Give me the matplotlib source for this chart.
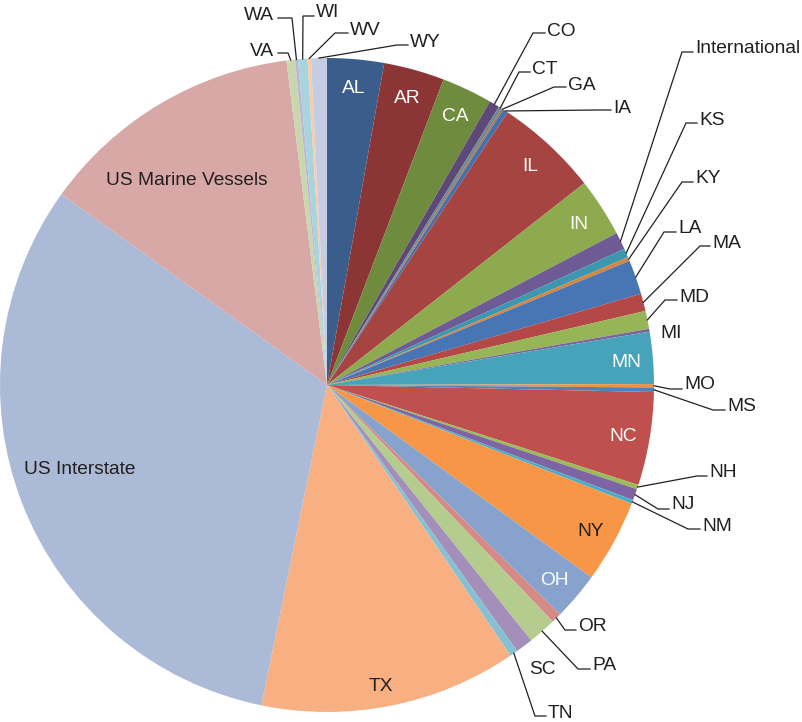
import numpy as np
import matplotlib
matplotlib.use("Agg")
import matplotlib.pyplot as plt

plt.rcParams['font.family'] = ['Liberation Sans', 'DejaVu Sans']

# Slice data (share of total, clockwise from 12 o'clock)
labels = ["AL", "AR", "CA", "CO", "CT", "GA", "IA", "IL", "IN", "International",
          "KS", "KY", "LA", "MA", "MD", "MI", "MN", "MO", "MS", "NC", "NH", "NJ",
          "NM", "NY", "OH", "OR", "PA", "SC", "TN", "TX", "US Interstate",
          "US Marine Vessels", "VA", "WA", "WI", "WV", "WY"]
shares = [2.8, 3.0, 2.5, 0.51, 0.17, 0.08, 0.25, 5.1, 2.9, 0.86,
          0.44, 0.19, 1.7, 0.86, 0.89, 0.14, 2.56, 0.17, 0.22, 4.6, 0.22, 0.56,
          0.19, 4.1, 2.36, 0.5, 1.39, 0.86, 0.39, 12.7, 31.7,
          13.1, 0.42, 0.14, 0.47, 0.17, 0.78]
colors = ["#3a5d8c", "#8b3634", "#6f8b3d", "#5d4878", "#6f8a94", "#b66d31",
          "#4471ae", "#a54441", "#8daa4e", "#6e5a94", "#3d97ae", "#d9843b",
          "#4876b4", "#b34846", "#95b556", "#7b61a0", "#46a3ba", "#f0913f",
          "#4f81bd", "#c0504d", "#9bbb59", "#7e64a3", "#4bacc6", "#f79646",
          "#87a2cd", "#d58a88", "#b5cc8f", "#a38fba", "#85c1d3", "#f8b083",
          "#aabad7", "#d8a8a7", "#c9d7ae", "#beb3d1", "#a8d4e0", "#f9cba8",
          "#c5cde3"]

W, H = 802, 722
cx, cy, R = 327, 385, 327      # pie centre / radius in pixels (y down)
dark = "#231f20"
fs = 13.8

# labels drawn inside the slices: radius in px, angle shift (deg, clockwise), colour
inside = {"AL": (300, 0, "white"), "AR": (300, 0, "white"), "CA": (300, 0, "white"),
          "IL": (300, 0, "white"), "IN": (300, 0, "white"), "MN": (300, 0, "white"),
          "NC": (300, 0, "white"), "NY": (300, 0, dark), "OH": (298, 0, "white"),
          "TX": (304, 1, dark), "US Interstate": (260, 3, dark),
          "US Marine Vessels": (250, -3.5, dark)}

# outside labels: text x, text centre y, alignment, leader elbow (None = no leader)
outside = {
    "CO": (547, 29, "left", (533, 33)),
    "CT": (532, 67, "left", (519, 72)),
    "GA": (568, 83, "left", (554, 87)),
    "IA": (613, 106, "left", (598, 110)),
    "International": (695, 46, "left", (682, 52)),
    "KS": (699, 118, "left", (686, 123)),
    "KY": (695, 176, "left", (682, 182)),
    "LA": (678, 226, "left", (664, 232)),
    "MA": (712, 241, "left", (700, 246)),
    "MD": (679, 295, "left", (665, 300)),
    "MI": (660, 331, "left", None),
    "MO": (684, 382, "left", (670, 389)),
    "MS": (727, 404, "left", (713, 410)),
    "NH": (709, 470, "left", (697, 476)),
    "NJ": (671, 502, "left", (658, 509)),
    "NM": (702, 524, "left", (688, 529)),
    "OR": (578, 624, "left", (565, 630)),
    "PA": (592, 663, "left", (578, 669)),
    "SC": (529, 667, "left", None),
    "TN": (548, 711, "left", (535, 716)),
    "VA": (274, 49, "right", (288, 53)),
    "WA": (274, 13, "right", (292, 18)),
    "WI": (316, 10, "left", (303, 16)),
    "WV": (350, 28, "left", (335, 33)),
    "WY": (410, 40, "left", (397, 45)),
}

fig = plt.figure(figsize=(W / 100, H / 100), dpi=100)
ax = fig.add_axes([0, 0, 1, 1])

wedges, _ = ax.pie(shares, colors=colors, startangle=90, counterclock=False,
                   center=(cx, H - cy), radius=R,
                   wedgeprops=dict(linewidth=0))
ax.set_xlim(0, W)
ax.set_ylim(0, H)
ax.set_aspect("equal")
ax.axis("off")


def mid_point(w, r, shift=0.0):
    a = np.deg2rad((w.theta1 + w.theta2) / 2 - shift)
    return w.center[0] + r * np.cos(a), w.center[1] + r * np.sin(a)


cap = 6.8  # half cap height, to put the baseline under the visual centre
for name, w in zip(labels, wedges):
    if name in inside:
        r, shift, col = inside[name]
        x, y = mid_point(w, r, shift)
        ax.text(x, y - cap, name, ha="center", va="baseline", fontsize=fs, color=col)
    elif name in outside:
        tx, ty, ha, elbow = outside[name]
        ax.text(tx, H - ty - cap, name, ha=ha, va="baseline", fontsize=fs, color=dark)
        if elbow is not None:
            ax_, ay_ = mid_point(w, R)
            ex, ey = elbow[0], H - elbow[1]
            end = tx - 2 if ha == "left" else tx + 4
            ax.plot([ax_, ex, end], [ay_, ey, ey], color=dark, lw=0.9,
                    solid_joinstyle="miter")

fig.savefig("out.png", dpi=100)
